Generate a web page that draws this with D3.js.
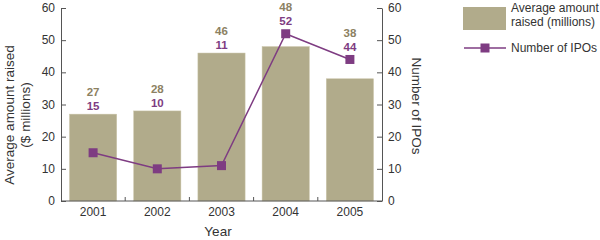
<!DOCTYPE html>
<html>
<head>
<meta charset="utf-8">
<script src="https://cdn.jsdelivr.net/npm/d3@7"></script>
<style>
  body { margin: 0; background: #fff; }
  svg { font-family: "Liberation Sans", Arial, sans-serif; }
</style>
</head>
<body>
<div id="chart"></div>
<script>
// chart data
const years = ["2001", "2002", "2003", "2004", "2005"];
const avgRaised = [27, 28, 46, 48, 38];
const ipoCount = [15, 10, 11, 52, 44];
const yTicks = [0, 10, 20, 30, 40, 50, 60];

const barColor = "#b1ab8b";
const barLabelColor = "#8c8162";
const lineColor = "#7e3c82";
const axisColor = "#555";
const textColor = "#333";

const svg = d3.select("#chart")
  .append("svg")
  .attr("width", 600)
  .attr("height", 240);

// scales
const x = d3.scaleBand()
  .domain(years)
  .range([61, 382])
  .paddingInner(0.265)
  .paddingOuter(0.1325);

const yL = d3.scaleLinear().domain([0, 60]).range([201, 8]);
const yR = d3.scaleLinear().domain([0, 60]).range([201, 8]);

// bars
svg.selectAll(".bar")
  .data(years)
  .join("rect")
  .attr("class", "bar")
  .attr("x", d => x(d))
  .attr("width", x.bandwidth())
  .attr("y", (d, i) => yL(avgRaised[i]))
  .attr("height", (d, i) => yL(0) - yL(avgRaised[i]))
  .attr("fill", barColor)
  .attr("stroke", "#c9c4a8")
  .attr("stroke-width", 0.5);

// left axis
const left = svg.append("g")
  .attr("transform", "translate(61,0)")
  .call(d3.axisRight(yL).tickValues(yTicks).tickSize(5).tickSizeOuter(0));
left.selectAll("text").remove();
left.selectAll("text.lbl")
  .data(yTicks)
  .join("text")
  .attr("class", "lbl")
  .attr("x", -6)
  .attr("y", d => yL(d) + 4)
  .attr("text-anchor", "end")
  .attr("font-size", 12)
  .attr("fill", textColor)
  .text(d => d);

// right axis
const right = svg.append("g")
  .attr("transform", "translate(382,0)")
  .call(d3.axisLeft(yR).tickValues(yTicks).tickSize(5).tickSizeOuter(0));
right.selectAll("text").remove();
right.selectAll("text.lbl")
  .data(yTicks)
  .join("text")
  .attr("class", "lbl")
  .attr("x", 6)
  .attr("y", d => yR(d) + 4)
  .attr("text-anchor", "start")
  .attr("font-size", 12)
  .attr("fill", textColor)
  .text(d => d);

[left, right].forEach(g => {
  g.select(".domain").attr("stroke", axisColor);
  g.selectAll(".tick line").attr("stroke", axisColor);
});

// bottom axis: line plus small inward ticks between years
const bottom = svg.append("g");
bottom.append("line")
  .attr("x1", 61).attr("x2", 382)
  .attr("y1", yL(0)).attr("y2", yL(0))
  .attr("stroke", axisColor);
bottom.selectAll(".sep")
  .data(years.slice(1))
  .join("line")
  .attr("class", "sep")
  .attr("x1", d => x(d) - x.step() * x.paddingInner() / 2)
  .attr("x2", d => x(d) - x.step() * x.paddingInner() / 2)
  .attr("y1", yL(0))
  .attr("y2", yL(0) - 4)
  .attr("stroke", axisColor);
bottom.selectAll(".yr")
  .data(years)
  .join("text")
  .attr("class", "yr")
  .attr("x", d => x(d) + x.bandwidth() / 2)
  .attr("y", 216)
  .attr("text-anchor", "middle")
  .attr("font-size", 12)
  .attr("fill", textColor)
  .text(d => d);

// line of IPO counts
const line = d3.line()
  .x((d, i) => x(years[i]) + x.bandwidth() / 2)
  .y(d => yR(d));

svg.append("path")
  .datum(ipoCount)
  .attr("d", line)
  .attr("fill", "none")
  .attr("stroke", lineColor)
  .attr("stroke-width", 1.5);

svg.selectAll(".mk")
  .data(ipoCount)
  .join("rect")
  .attr("class", "mk")
  .attr("x", (d, i) => x(years[i]) + x.bandwidth() / 2 - 4.5)
  .attr("y", d => yR(d) - 4.5)
  .attr("width", 9)
  .attr("height", 9)
  .attr("fill", lineColor);

// value labels above bar or marker
const anchorY = i => Math.min(yL(avgRaised[i]), yR(ipoCount[i]) - 4.5);
svg.selectAll(".vb")
  .data(years)
  .join("text")
  .attr("class", "vb")
  .attr("x", d => x(d) + x.bandwidth() / 2)
  .attr("y", (d, i) => anchorY(i) - 18)
  .attr("text-anchor", "middle")
  .attr("font-size", 11.5)
  .attr("font-weight", "bold")
  .attr("fill", barLabelColor)
  .text((d, i) => avgRaised[i]);
svg.selectAll(".vl")
  .data(years)
  .join("text")
  .attr("class", "vl")
  .attr("x", d => x(d) + x.bandwidth() / 2)
  .attr("y", (d, i) => anchorY(i) - 4)
  .attr("text-anchor", "middle")
  .attr("font-size", 11.5)
  .attr("font-weight", "bold")
  .attr("fill", lineColor)
  .text((d, i) => ipoCount[i]);

// axis titles
const leftTitle = svg.append("text")
  .attr("transform", "translate(14,115) rotate(-90)")
  .attr("text-anchor", "middle")
  .attr("font-size", 13.5)
  .attr("fill", textColor);
leftTitle.append("tspan").attr("x", 0).attr("dy", 0).text("Average amount raised");
leftTitle.append("tspan").attr("x", 0).attr("dy", 16).text("($ millions)");

svg.append("text")
  .attr("transform", "translate(412,106) rotate(90)")
  .attr("text-anchor", "middle")
  .attr("font-size", 13.5)
  .attr("fill", textColor)
  .text("Number of IPOs");

svg.append("text")
  .attr("x", 218)
  .attr("y", 236)
  .attr("text-anchor", "middle")
  .attr("font-size", 13.5)
  .attr("fill", textColor)
  .text("Year");

// legend
const legend = svg.append("g");
legend.append("rect")
  .attr("x", 463).attr("y", 7)
  .attr("width", 43).attr("height", 23)
  .attr("fill", barColor);
legend.append("text")
  .attr("x", 511).attr("y", 12)
  .attr("font-size", 12)
  .attr("fill", textColor)
  .text("Average amount");
legend.append("text")
  .attr("x", 511).attr("y", 26)
  .attr("font-size", 12)
  .attr("fill", textColor)
  .text("raised (millions)");
legend.append("line")
  .attr("x1", 464).attr("x2", 506)
  .attr("y1", 48).attr("y2", 48)
  .attr("stroke", lineColor)
  .attr("stroke-width", 1.5);
legend.append("rect")
  .attr("x", 480.5).attr("y", 43.5)
  .attr("width", 9).attr("height", 9)
  .attr("fill", lineColor);
legend.append("text")
  .attr("x", 511).attr("y", 52)
  .attr("font-size", 12)
  .attr("fill", textColor)
  .text("Number of IPOs");
</script>
</body>
</html>
